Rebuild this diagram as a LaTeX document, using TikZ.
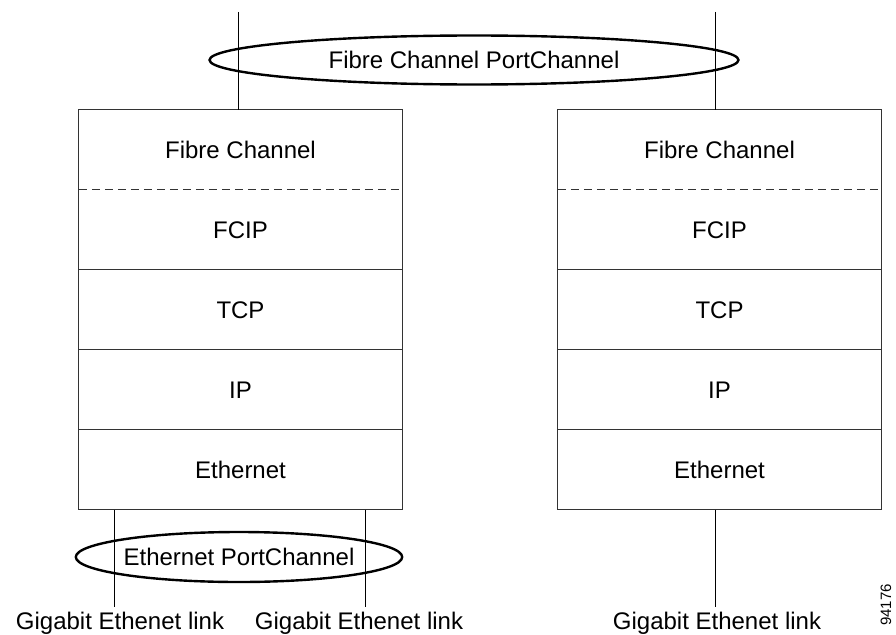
\documentclass[tikz,border=0pt]{standalone}
\usepackage{fontspec}
\setmainfont{Liberation Sans}
\usetikzlibrary{positioning, shapes.geometric}

\begin{document}
\begin{tikzpicture}[x=1pt, y=-1pt,
    layer/.style={minimum width=323pt, minimum height=79.6pt, inner sep=0pt,
                  font=\fontsize{24}{28}\selectfont},
    stackbox/.style={draw=black!80, line width=1.1pt},
    pchan/.style={draw=black, ellipse, line width=2.4pt, inner sep=0pt,
                  font=\fontsize{24}{28}\selectfont},
    wire/.style={draw=black, line width=0.9pt},
    linklabel/.style={inner sep=0pt, anchor=base, font=\fontsize{24}{28}\selectfont}]

    \useasboundingbox (0,0) rectangle (896,634);

    % the two protocol stacks
    \foreach \s/\x in {L/240.5, R/719.5} {
        \node[layer] (fc\s) at (\x,149.8) {Fibre Channel\hspace{8pt}};
        \node[layer, below=0pt of fc\s] (fcip\s) {FCIP\hspace{8pt}};
        \node[layer, below=0pt of fcip\s] (tcp\s) {TCP\hspace{8pt}};
        \node[layer, below=0pt of tcp\s] (ip\s) {IP\hspace{8pt}};
        \node[layer, below=0pt of ip\s] (eth\s) {Ethernet\hspace{8pt}};
        \draw[stackbox] (fc\s.north west) rectangle (eth\s.south east);
        \draw[stackbox, dash pattern=on 8pt off 5pt] (fc\s.south west) -- (fc\s.south east);
        \foreach \n in {fcip, tcp, ip}
            \draw[stackbox] (\n\s.south west) -- (\n\s.south east);
    }

    % fibre channel side
    \coordinate (fcTopL) at (238,12);
    \coordinate (fcTopR) at (715,12);
    \draw[wire] (fcTopL) -- (fcTopL |- fcL.north);
    \draw[wire] (fcTopR) -- (fcTopR |- fcR.north);
    \node[pchan, minimum width=529pt, minimum height=49pt] (fcpc) at (474,60)
        {Fibre Channel PortChannel\hspace{34pt}};

    % gigabit links
    \node[linklabel] (gigA) at (120,629) {Gigabit Ethenet link};
    \node[linklabel] (gigB) at (359,629) {Gigabit Ethenet link};
    \node[linklabel] (gigC) at (717,629) {Gigabit Ethenet link};
    \coordinate (endA) at (114,607);
    \coordinate (endB) at (365,607);
    \coordinate (endC) at (715,607);
    \draw[wire] (endA |- ethL.south) -- (endA);
    \draw[wire] (endB |- ethL.south) -- (endB);
    \draw[wire] (endC |- ethR.south) -- (endC);
    \node[pchan, minimum width=307pt, minimum height=50pt] (ethpc) at (239,557)
        {Ethernet PortChannel};

    \node[rotate=90, inner sep=0pt, font=\fontsize{15}{17}\selectfont] (figno) at (886,605) {94176};
\end{tikzpicture}
\end{document}
